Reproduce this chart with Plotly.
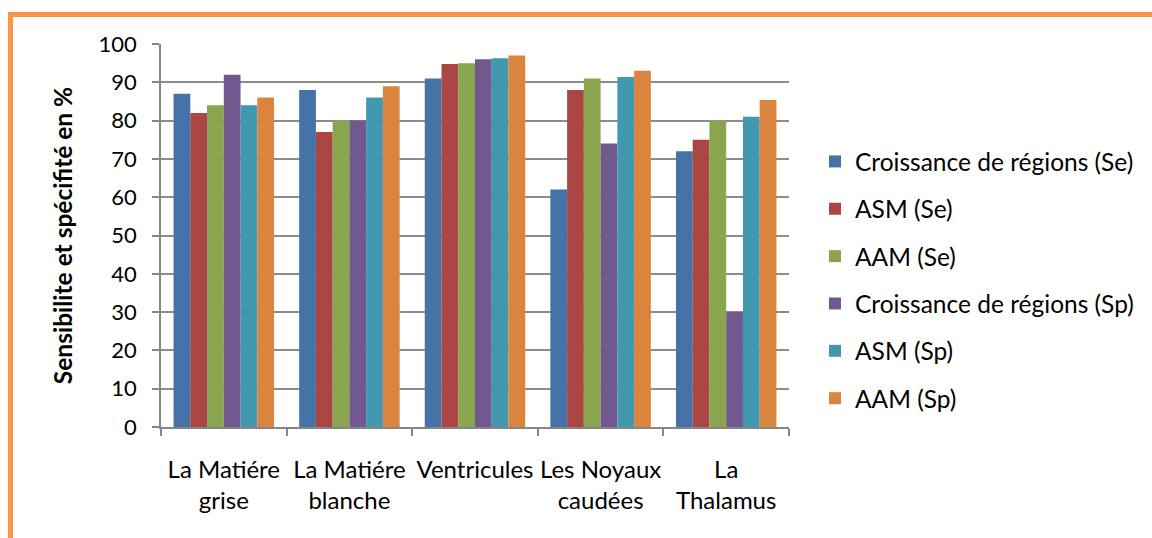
import plotly.graph_objects as go

# Régions cérébrales évaluées
categories = [
    "La Matiére<br>grise",
    "La Matiére<br>blanche",
    "Ventricules",
    "Les Noyaux<br>caudées",
    "La<br>Thalamus",
]

# Sensibilité (Se) et spécificité (Sp) en % pour chaque méthode
croissance_se = [87, 88, 91, 62, 72]
asm_se = [82, 77, 94.8, 88, 75]
aam_se = [84, 80, 95, 91, 80]
croissance_sp = [92, 80, 96, 74, 30]
asm_sp = [84, 86, 96.3, 91.4, 81]
aam_sp = [86, 89, 97, 93, 85.4]

series = [
    ("Croissance de régions (Se)", croissance_se, "#4572A7"),
    ("ASM (Se)", asm_se, "#AA4643"),
    ("AAM (Se)", aam_se, "#89A54E"),
    ("Croissance de régions (Sp)", croissance_sp, "#71588F"),
    ("ASM (Sp)", asm_sp, "#4198AF"),
    ("AAM (Sp)", aam_sp, "#DB843D"),
]

FONT = "Lato"

fig = go.Figure()
for i, (name, vals, color) in enumerate(series):
    fig.add_trace(go.Bar(
        x=categories, y=vals, name=name,
        marker=dict(color=color, line=dict(width=0)),
        legendgroup=f"g{i}",
    ))

W, H = 1152, 538
L, R, T, B = 161, 363, 44, 111
pw, ph = W - L - R, H - T - B

def px_x(x):
    return (x - L) / pw

def px_y(y):
    return (H - B - y) / ph

fig.update_layout(
    width=W, height=H,
    margin=dict(l=L, r=R, t=T, b=B, autoexpand=False),
    paper_bgcolor="white", plot_bgcolor="white",
    barmode="group", bargap=0.2, bargroupgap=0,
    font=dict(family=FONT, color="black", size=22),
    legend=dict(
        x=px_x(815), xanchor="left",
        y=px_y(280), yanchor="middle",
        font=dict(family=FONT, size=24.5, color="black"),
        tracegroupgap=12.5,
        bgcolor="rgba(0,0,0,0)",
    ),
    xaxis=dict(
        showgrid=False, automargin=False,
        showline=True, linecolor="#868686", linewidth=1.5,
        ticks="outside", ticklen=7, tickcolor="#868686", tickwidth=1.5,
        tickson="boundaries", tickangle=0,
        tickfont=dict(family=FONT, size=24, color="black"),
        ticklabelstandoff=20,
        fixedrange=True,
    ),
    yaxis=dict(
        range=[0, 100], dtick=10, automargin=False,
        showgrid=True, gridcolor="#8c8c8c", gridwidth=1.5,
        showline=True, linecolor="#868686", linewidth=1.5,
        ticks="outside", ticklen=7, tickcolor="#868686", tickwidth=1.5,
        tickfont=dict(family=FONT, size=22, color="black"),
        ticklabelstandoff=11,
        zeroline=False,
        title=dict(
            text="<b>Sensibilite et spécifité en %</b>",
            font=dict(family=FONT, size=24.5, color="black"),
            standoff=19,
        ),
        fixedrange=True,
    ),
    shapes=[dict(
        type="rect", xref="paper", yref="paper",
        x0=px_x(10.5), x1=px_x(1170),
        y0=px_y(560), y1=px_y(14.5),
        line=dict(color="#F79646", width=5),
        fillcolor="rgba(0,0,0,0)",
        layer="below",
    )],
)

fig.write_html("out.html")
